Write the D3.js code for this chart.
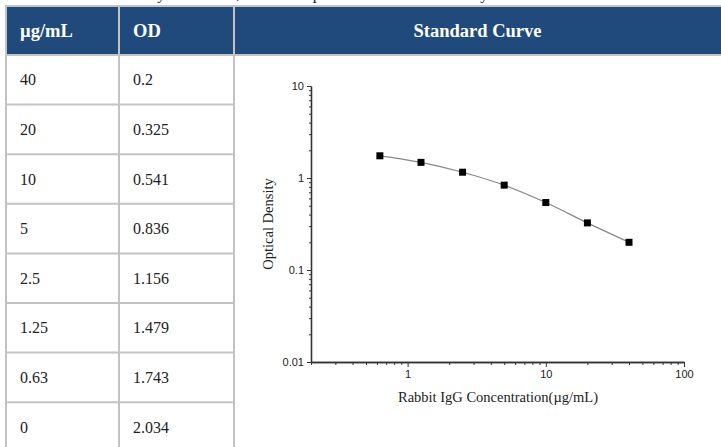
<!DOCTYPE html>
<html><head><meta charset="utf-8">
<script src="https://cdn.jsdelivr.net/npm/d3@7"></script>
<style>html,body{margin:0;padding:0;background:#fff;overflow:hidden}</style>
</head><body>
<svg id="c" width="721" height="447"></svg>
<script>
const concLabels = ["40","20","10","5","2.5","1.25","0.63","0"];
const odLabels = ["0.2","0.325","0.541","0.836","1.156","1.479","1.743","2.034"];
const headers = ["\u00b5g/mL","OD","Standard Curve"];
const conc = [0.63,1.25,2.5,5,10,20,40];
const od = [1.743,1.479,1.156,0.836,0.541,0.325,0.2];
const yTicks = [0.01,0.1,1,10];
const xTicks = [1,10,100];
const note = "Due to variations in assay conditions, the data is provided for reference only.";

const svg = d3.select("#c");
const serif = "'Liberation Serif','Times New Roman',serif";
const sans = "'Liberation Sans',Arial,sans-serif";
const border = "#c3c3c3", blue = "#1f4a7b";

// note text, cut off at top as in the reference
svg.append("text").attr("x",0).attr("y",-1.5).attr("font-family",serif).attr("font-size",16)
  .attr("fill","#222").text(note);

const colX = d3.scaleOrdinal().domain([0,1,2,3]).range([6,119,234,722]);
const rowY = d3.scaleLinear().domain([0,1]).range([55,104.6]);

svg.append("rect").attr("x",6).attr("y",6).attr("width",716).attr("height",49).attr("fill",blue);
svg.selectAll("text.h").data(headers).join("text").attr("class","h")
  .attr("x",(d,i)=> i<2 ? colX(i)+14 : (colX(2)+721)/2)
  .attr("y",37).attr("text-anchor",(d,i)=>i<2?"start":"middle")
  .attr("font-family",serif).attr("font-weight","bold").attr("font-size",18.5)
  .attr("fill","#fff").text(d=>d);

const rows = concLabels.map((c,i)=>({c, o:odLabels[i], i}));
svg.selectAll("text.c1").data(rows).join("text")
  .attr("x",20).attr("y",d=>rowY(d.i+0.5)+5.5)
  .attr("font-family",serif).attr("font-size",16).attr("fill","#222").text(d=>d.c);
svg.selectAll("text.c2").data(rows).join("text")
  .attr("x",133).attr("y",d=>rowY(d.i+0.5)+5.5)
  .attr("font-family",serif).attr("font-size",16).attr("fill","#222").text(d=>d.o);

const g = svg.append("g").attr("stroke",border).attr("stroke-width",2).attr("fill","none");
g.append("line").attr("x1",5).attr("x2",721).attr("y1",6).attr("y2",6);
g.append("line").attr("x1",5).attr("x2",721).attr("y1",55).attr("y2",55);
[0,1,2].forEach(i=>{
  g.append("line").attr("x1",colX(i)).attr("x2",colX(i)).attr("y1",5).attr("y2",447);
});
d3.range(1,8).forEach(i=>{
  g.append("line").attr("x1",5).attr("x2",colX(2)).attr("y1",rowY(i)).attr("y2",rowY(i));
});

const x = d3.scaleLog().domain([0.2,100]).range([311,684]);
const y = d3.scaleLog().domain([0.01,10]).range([362,86]);
const axisColor = "#333";

function minorTicks(dom){
  const out=[];
  for(let e=Math.floor(Math.log10(dom[0])); e<Math.log10(dom[1]); e++){
    for(let k=1;k<10;k++){const v=k*Math.pow(10,e); if(v>=dom[0]-1e-9 && v<=dom[1]+1e-9) out.push(v);}
  }
  return out;
}
const xMinor = minorTicks(x.domain()).filter(v=>!xTicks.includes(v));
const yMinor = minorTicks(y.domain()).filter(v=>!yTicks.includes(v));

const yAx = svg.append("g").attr("transform","translate(311,0)")
  .call(d3.axisLeft(y).tickValues(yTicks).tickFormat(d3.format("~g")).tickSize(4).tickSizeOuter(0).tickPadding(3));
yAx.append("g").call(d3.axisLeft(y).tickValues(yMinor).tickFormat("").tickSize(2).tickSizeOuter(0));
const xAx = svg.append("g").attr("transform","translate(0,362)")
  .call(d3.axisBottom(x).tickValues(xTicks).tickFormat(d3.format("~g")).tickSize(5).tickSizeOuter(0).tickPadding(3));
xAx.append("g").call(d3.axisBottom(x).tickValues(xMinor).tickFormat("").tickSize(3).tickSizeOuter(0));
svg.selectAll(".domain").attr("stroke",axisColor).attr("stroke-width",1.3);
svg.selectAll(".tick line").attr("stroke",axisColor).attr("stroke-width",1);
svg.selectAll(".tick text").attr("font-family",sans).attr("font-size",11).attr("fill","#222");

svg.append("text").attr("transform","translate(273,224) rotate(-90)").attr("text-anchor","middle")
  .attr("font-family",serif).attr("font-size",14.5).attr("fill","#222").text("Optical Density");
svg.append("text").attr("x",498).attr("y",402).attr("text-anchor","middle")
  .attr("font-family",serif).attr("font-size",14.5).attr("fill","#222").text("Rabbit IgG Concentration(\u00b5g/mL)");

const pts = conc.map((c,i)=>[c,od[i]]);
svg.append("path").datum(pts).attr("fill","none").attr("stroke","#888").attr("stroke-width",1.2)
  .attr("d",d3.line().x(d=>x(d[0])).y(d=>y(d[1])).curve(d3.curveMonotoneX));
svg.selectAll("rect.m").data(pts).join("rect").attr("class","m")
  .attr("x",d=>x(d[0])-3.5).attr("y",d=>y(d[1])-3.5).attr("width",7).attr("height",7).attr("fill","#000");
</script>
</body></html>
